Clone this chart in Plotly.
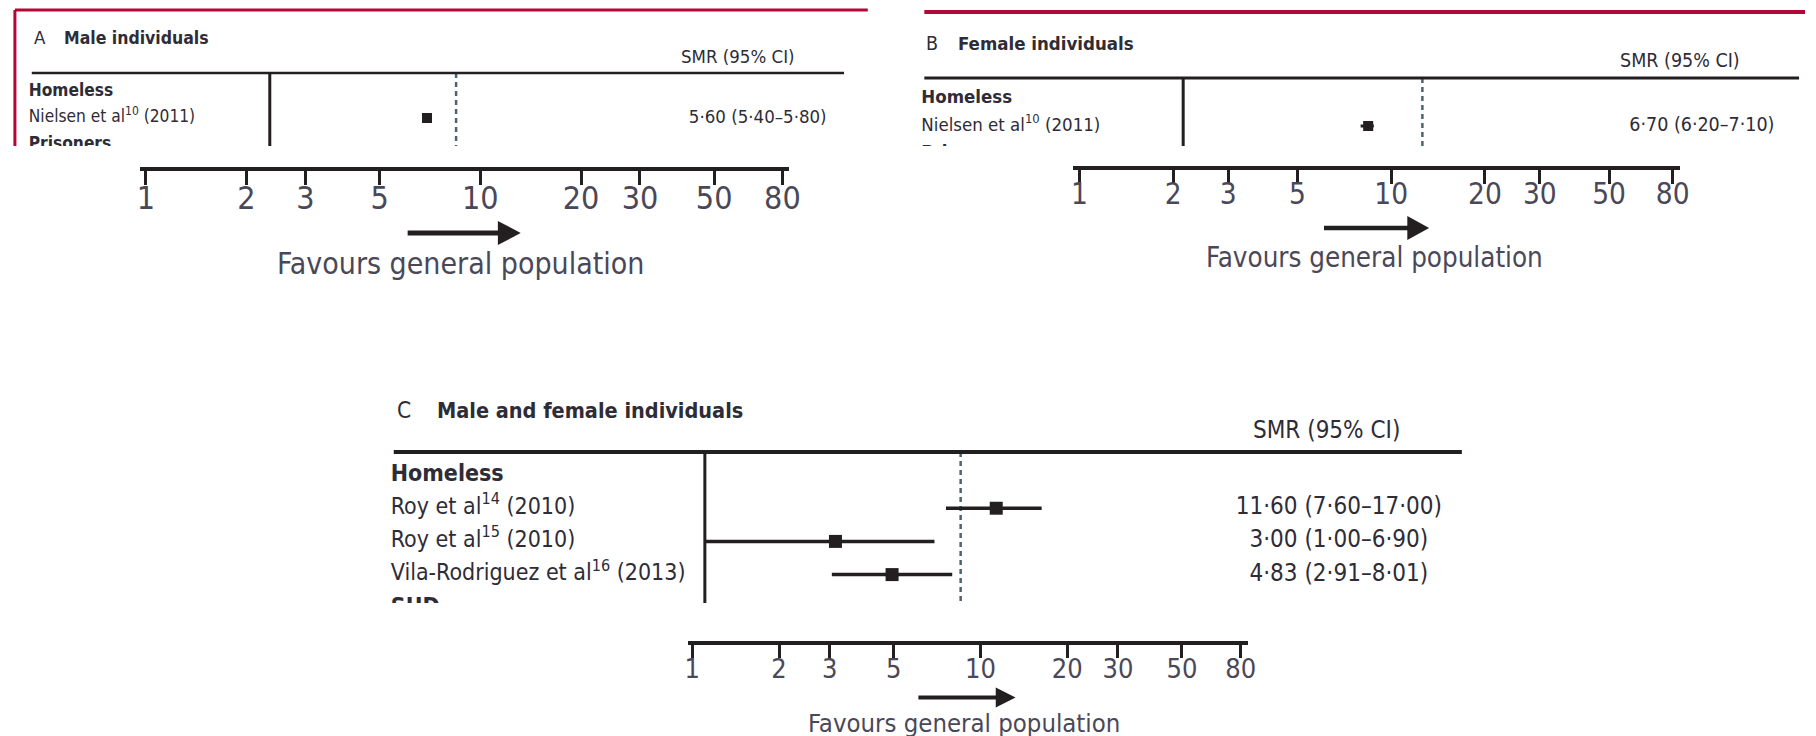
import plotly.graph_objects as go

# ---------------- data ----------------
a_labels = ["<b>Homeless</b>", "Nielsen et al<sup>10</sup> (2011)", "<b>Prisoners</b>"]
a_smr = [None, 5.60, None]
a_lo = [None, 5.40, None]
a_hi = [None, 5.80, None]
a_ci_text = ["", "5·60 (5·40–5·80)", ""]
a_pooled = 7.7

b_labels = ["<b>Homeless</b>", "Nielsen et al<sup>10</sup> (2011)", "<b>Prisoners</b>"]
b_smr = [None, 6.70, None]
b_lo = [None, 6.20, None]
b_hi = [None, 7.10, None]
b_ci_text = ["", "6·70 (6·20–7·10)", ""]
b_pooled = 11.7

c_labels = ["<b>Homeless</b>", "Roy et al<sup>14</sup> (2010)", "Roy et al<sup>15</sup> (2010)",
            "Vila-Rodriguez et al<sup>16</sup> (2013)", "<b>SUD</b>"]
c_smr = [None, 11.60, 3.00, 4.83, None]
c_lo = [None, 7.60, 1.00, 2.91, None]
c_hi = [None, 17.00, 6.90, 8.01, None]
c_ci_text = ["", "11·60 (7·60–17·00)", "3·00 (1·00–6·90)", "4·83 (2·91–8·01)", ""]
c_pooled = 8.6

tick_vals = [1, 2, 3, 5, 10, 20, 30, 50, 80]
tick_text = ["1", "2", "3", "5", "10", "20", "30", "50", "80"]

panel_letters = ["A", "B", "C"]
panel_titles = ["Male individuals", "Female individuals", "Male and female individuals"]
header_text = "SMR (95% CI)"
favours_text = "Favours general population"

# ---------------- styling / layout (pixels) ----------------
W, H = 1816, 736
DARK = "#231f20"
SLATE = "#4b6570"
RED = "#b20838"
TXT = "#2e2c36"
TICKTXT = "#4a4858"
FONT = "DejaVu Sans Condensed, sans-serif"


def X(px):
    return px / W


def Y(py):
    return 1 - py / H


panels = [
    dict(labels=a_labels, smr=a_smr, lo=a_lo, hi=a_hi, ci=a_ci_text, pooled=a_pooled,
         letter_x=28, title_x=58, title_y=38, tsize=17.5,
         hdr_cx=740, hdr_y=56,
         rule_y=73, rule_x0=28, rule_x1=847, rule_w=2.5,
         ux0=20, ux1=847, uy0=73, uy1=146, x_one=268, ppd=211.9, row0=91.5, dy=26.5,
         lab_x=25, val_cx=760, fsize=17.2, vsize=18.5, sq=10, ciw=3, vlw=3, dlw=2.5,
         lx0=137, lx1=792, line_y=167, lx_one=143, lppd=337.3, tfs=32, tlen=14, tso=-14,
         arr_y=233, arr_x0=407, arr_h0=498, arr_tip=521, arr_hh=12, arr_w=5,
         fav_cx=460, fav_y=263, fav_fs=30,
         red=dict(top=(11, 871, 10, 3), left=(11, 10, 146, 3))),
    dict(labels=b_labels, smr=b_smr, lo=b_lo, hi=b_hi, ci=b_ci_text, pooled=b_pooled,
         letter_x=928, title_x=960, title_y=43, tsize=18.5,
         hdr_cx=1690, hdr_y=61,
         rule_y=78, rule_x0=928, rule_x1=1810, rule_w=3,
         ux0=920, ux1=1810, uy0=78, uy1=146, x_one=1189, ppd=225.8, row0=98.5, dy=27.5,
         lab_x=925, val_cx=1712, fsize=18.5, vsize=19.5, sq=10, ciw=3, vlw=3, dlw=2.5,
         lx0=1078, lx1=1690, line_y=166.3, lx_one=1084.4, lppd=314.3, tfs=29.5, tlen=14, tso=-16,
         arr_y=228, arr_x0=1331, arr_h0=1415, arr_tip=1437, arr_hh=12, arr_w=4.5,
         fav_cx=1382, fav_y=257, fav_fs=27.5,
         red=dict(top=(928, 1816, 12, 4), left=None)),
    dict(labels=c_labels, smr=c_smr, lo=c_lo, hi=c_hi, ci=c_ci_text, pooled=c_pooled,
         letter_x=394, title_x=435, title_y=410, tsize=21.5,
         hdr_cx=1334, hdr_y=430,
         rule_y=452, rule_x0=393, rule_x1=1470, rule_w=4,
         ux0=385, ux1=1470, uy0=452, uy1=603, x_one=706.7, ppd=276, row0=475, dy=33.2,
         lab_x=390, val_cx=1346, fsize=23, vsize=24, sq=13, ciw=3.5, vlw=3, dlw=2.5,
         lx0=690, lx1=1254, line_y=640.5, lx_one=694, lppd=290.6, tfs=27, tlen=13, tso=-12,
         arr_y=697.5, arr_x0=922, arr_h0=1000, arr_tip=1020, arr_hh=10, arr_w=4,
         fav_cx=968, fav_y=723, fav_fs=25.5,
         red=None),
]

fig = go.Figure()
layout = dict(width=W, height=H, margin=dict(l=0, r=0, t=0, b=0, pad=0),
              paper_bgcolor="white", plot_bgcolor="rgba(0,0,0,0)", showlegend=False)
shapes = []
annotations = []
xn = [0]
yn = [0]


def new_x():
    xn[0] += 1
    return "" if xn[0] == 1 else str(xn[0])


def new_y():
    yn[0] += 1
    return "" if yn[0] == 1 else str(yn[0])


for k, p in enumerate(panels):
    # ---- red frame ----
    if p["red"]:
        x0, x1, yy, w = p["red"]["top"]
        shapes.append(dict(type="line", xref="paper", yref="paper", x0=X(x0), x1=X(x1),
                           y0=Y(yy), y1=Y(yy), line=dict(color=RED, width=w)))
        if p["red"]["left"]:
            xx, y0, y1, w = p["red"]["left"]
            shapes.append(dict(type="line", xref="paper", yref="paper", x0=X(xx), x1=X(xx),
                               y0=Y(y0), y1=Y(y1), line=dict(color=RED, width=w)))
    # ---- titles ----
    annotations.append(dict(text=panel_letters[k], x=X(p["letter_x"]), y=Y(p["title_y"]),
                            xref="paper", yref="paper", xanchor="left", yanchor="middle",
                            showarrow=False, font=dict(family=FONT, size=p["tsize"] + 1, color=TXT)))
    annotations.append(dict(text="<b>" + panel_titles[k] + "</b>", x=X(p["title_x"]), y=Y(p["title_y"]),
                            xref="paper", yref="paper", xanchor="left", yanchor="middle",
                            showarrow=False, font=dict(family=FONT, size=p["tsize"], color=TXT)))
    annotations.append(dict(text=header_text, x=X(p["hdr_cx"]), y=Y(p["hdr_y"]),
                            xref="paper", yref="paper", xanchor="center", yanchor="middle",
                            showarrow=False, font=dict(family=FONT, size=p["vsize"], color=TXT)))
    shapes.append(dict(type="line", xref="paper", yref="paper", x0=X(p["rule_x0"]), x1=X(p["rule_x1"]),
                       y0=Y(p["rule_y"]), y1=Y(p["rule_y"]), line=dict(color=DARK, width=p["rule_w"])))

    # ---- upper forest area ----
    sx = new_x()
    st = new_x()
    sy = new_y()
    rlo = -(p["x_one"] - p["ux0"]) / p["ppd"]
    rhi = (p["ux1"] - p["x_one"]) / p["ppd"]
    ybot = (p["uy1"] - p["row0"]) / p["dy"]
    ytop = (p["uy0"] - p["row0"]) / p["dy"]
    layout["xaxis" + sx] = dict(type="log", range=[rlo, rhi], domain=[X(p["ux0"]), X(p["ux1"])],
                                anchor="y" + sy, visible=False, fixedrange=True)
    layout["xaxis" + st] = dict(range=[p["ux0"], p["ux1"]], overlaying="x" + sx, anchor="y" + sy,
                                visible=False, fixedrange=True)
    layout["yaxis" + sy] = dict(domain=[Y(p["uy1"]), Y(p["uy0"])], range=[ybot, ytop],
                                anchor="x" + sx, visible=False, fixedrange=True)
    n = len(p["labels"])
    rows = list(range(n))
    # reference line at SMR = 1 and pooled estimate line
    fig.add_trace(go.Scatter(x=[1, 1], y=[ytop, ybot], mode="lines", xaxis="x" + sx, yaxis="y" + sy,
                             line=dict(color=DARK, width=p["vlw"]), hoverinfo="skip"))
    fig.add_trace(go.Scatter(x=[p["pooled"], p["pooled"]], y=[ytop, ybot], mode="lines",
                             xaxis="x" + sx, yaxis="y" + sy,
                             line=dict(color=SLATE, width=p["dlw"], dash="5px,4px"), hoverinfo="skip"))
    # CI lines
    cx, cy = [], []
    for i in rows:
        if p["lo"][i] is not None:
            cx += [p["lo"][i], p["hi"][i], None]
            cy += [i, i, None]
    fig.add_trace(go.Scatter(x=cx, y=cy, mode="lines", xaxis="x" + sx, yaxis="y" + sy,
                             line=dict(color=DARK, width=p["ciw"]), hoverinfo="skip"))
    mx = [p["smr"][i] for i in rows if p["smr"][i] is not None]
    my = [i for i in rows if p["smr"][i] is not None]
    fig.add_trace(go.Scatter(x=mx, y=my, mode="markers", xaxis="x" + sx, yaxis="y" + sy,
                             marker=dict(symbol="square", size=p["sq"], color=DARK, line=dict(width=0)),
                             hoverinfo="skip"))
    # study labels and CI text (clipped to the cropped panel)
    fig.add_trace(go.Scatter(x=[p["lab_x"]] * n, y=rows, mode="text", text=p["labels"],
                             textposition="middle right", xaxis="x" + st, yaxis="y" + sy,
                             cliponaxis=True, textfont=dict(family=FONT, size=p["fsize"], color=TXT),
                             hoverinfo="skip"))
    fig.add_trace(go.Scatter(x=[p["val_cx"]] * n, y=rows, mode="text", text=p["ci"],
                             textposition="middle center", xaxis="x" + st, yaxis="y" + sy,
                             cliponaxis=True, textfont=dict(family=FONT, size=p["vsize"], color=TXT),
                             hoverinfo="skip"))

    # ---- lower scale axis ----
    lx = new_x()
    ly = new_y()
    llo = -(p["lx_one"] - p["lx0"]) / p["lppd"]
    lhi = (p["lx1"] - p["lx_one"]) / p["lppd"]
    layout["xaxis" + lx] = dict(type="log", range=[llo, lhi], domain=[X(p["lx0"]), X(p["lx1"])],
                                anchor="y" + ly, showline=True, linecolor=DARK, linewidth=4,
                                ticks="outside", ticklen=p["tlen"], tickwidth=3, tickcolor=DARK,
                                tickmode="array", tickvals=tick_vals, ticktext=tick_text,
                                ticklabelstandoff=p["tso"],
                                tickfont=dict(family=FONT, size=p["tfs"], color=TICKTXT),
                                showgrid=False, zeroline=False, fixedrange=True)
    layout["yaxis" + ly] = dict(domain=[Y(p["line_y"]), Y(p["line_y"]) + 0.01], range=[0, 1],
                                visible=False, fixedrange=True, anchor="x" + lx)
    fig.add_trace(go.Scatter(x=tick_vals, y=[0.5] * len(tick_vals), mode="markers",
                             xaxis="x" + lx, yaxis="y" + ly, marker=dict(opacity=0),
                             hoverinfo="skip"))

    # ---- arrow and caption ----
    shapes.append(dict(type="line", xref="paper", yref="paper", x0=X(p["arr_x0"]), x1=X(p["arr_h0"] + 2),
                       y0=Y(p["arr_y"]), y1=Y(p["arr_y"]), line=dict(color=DARK, width=p["arr_w"])))
    shapes.append(dict(type="path", xref="paper", yref="paper",
                       path="M {},{} L {},{} L {},{} Z".format(
                           X(p["arr_h0"]), Y(p["arr_y"] - p["arr_hh"]),
                           X(p["arr_tip"]), Y(p["arr_y"]),
                           X(p["arr_h0"]), Y(p["arr_y"] + p["arr_hh"])),
                       fillcolor=DARK, line=dict(width=0)))
    annotations.append(dict(text=favours_text, x=X(p["fav_cx"]), y=Y(p["fav_y"]),
                            xref="paper", yref="paper", xanchor="center", yanchor="middle",
                            showarrow=False, font=dict(family=FONT, size=p["fav_fs"], color=TICKTXT)))

layout["shapes"] = shapes
layout["annotations"] = annotations
fig.update_layout(**layout)
fig.write_html("out.html", config=dict(displayModeBar=False, staticPlot=True),
               post_script="document.body.style.margin='0px';document.body.style.overflow='hidden';")
